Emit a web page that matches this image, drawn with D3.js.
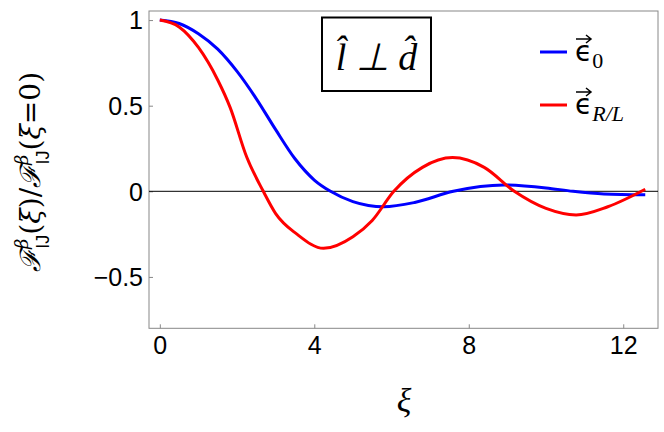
<!DOCTYPE html><html><head><meta charset="utf-8">
<script src="https://cdn.jsdelivr.net/npm/d3@7"></script>
<style>body{margin:0;background:#fff}</style></head><body><svg id="c" width="664" height="432"></svg>
<script>
const blueX=[0,0.5,1,1.5,2,2.5,3,3.5,4,4.42,5,5.8,6.6,7.6,8.9,10,10.7,11.5,12.57];
const blueY=[1,0.98,0.92,0.83,0.7,0.54,0.36,0.19,0.066,0,-0.06,-0.09,-0.065,0,0.037,0.02,0,-0.015,-0.02];
const redX=[0,0.5,1,1.5,1.82,2.25,2.68,3,3.55,4.24,5,5.5,6.06,6.8,7.58,8.4,9.18,10,10.78,11.6,12.57];
const redY=[1,0.96,0.84,0.65,0.49,0.2,0,-0.13,-0.25,-0.333,-0.265,-0.17,0,0.14,0.197,0.14,0,-0.1,-0.138,-0.09,0.012];
const xTicks=[0,4,8,12], yTicks=[-0.5,0,0.5,1];
const svg=d3.select("#c");
const x=d3.scaleLinear().domain([-0.28,12.9]).range([149,658]);
const y=d3.scaleLinear().domain([-0.8,1.053]).range([328.3,11]);
svg.append("rect").attr("x",149).attr("y",11).attr("width",509).attr("height",317.3).attr("fill","none").attr("stroke","#888");
const xa=svg.append("g").attr("transform","translate(0,328.3)").call(d3.axisBottom(x).tickValues(xTicks).tickSize(-4).tickPadding(8).tickFormat(d3.format("d")));
const ya=svg.append("g").attr("transform","translate(149,0)").call(d3.axisLeft(y).tickValues(yTicks).tickSize(-4).tickPadding(6).tickFormat(d=>d<0?"\u2212"+Math.abs(d):d));
[xa,ya].forEach(a=>{a.select(".domain").remove();a.selectAll("line").attr("stroke","#888");a.selectAll("text").attr("font-family","Liberation Sans, Arial").attr("font-size",25).attr("fill","#000");});
ya.selectAll("text").attr("dy","0.35em");
svg.append("line").attr("x1",x(-0.28)).attr("x2",x(12.9)).attr("y1",y(0)).attr("y2",y(0)).attr("stroke","#000").attr("stroke-width",1);
const line=d3.line().curve(d3.curveMonotoneX);
svg.append("path").attr("d",line(blueX.map((v,i)=>[x(v),y(blueY[i])]))).attr("fill","none").attr("stroke","#0000ff").attr("stroke-width",3);
svg.append("path").attr("d",line(redX.map((v,i)=>[x(v),y(redY[i])]))).attr("fill","none").attr("stroke","#ff0000").attr("stroke-width",3);
svg.append("rect").attr("x",322).attr("y",17.5).attr("width",109).attr("height",73.5).attr("fill","#fff").attr("stroke","#000").attr("stroke-width",2);
svg.append("text").attr("x",376.5).attr("y",70).attr("text-anchor","middle").attr("font-family","Liberation Serif, serif").attr("font-size",38).attr("font-style","italic").text("l\u0302 \u22A5 d\u0302");
[["#0000ff",52,"0"],["#ff0000",105,"R/L"]].forEach(([c,yy,s])=>{
 svg.append("line").attr("x1",540).attr("x2",567).attr("y1",yy).attr("y2",yy).attr("stroke",c).attr("stroke-width",3);
 const t=svg.append("text").attr("x",575).attr("y",yy+9).attr("font-family","DejaVu Sans").attr("font-size",28).text("\u03F5");
 t.append("tspan").attr("dy",7).attr("font-size",22).attr("font-family","Liberation Serif, serif").attr("font-style",s==="0"?"normal":"italic").text(s);
 svg.append("path").attr("d",`M576,${yy-13}L590,${yy-13}M586,${yy-17}L591,${yy-13}L586,${yy-9}`).attr("fill","none").attr("stroke","#000").attr("stroke-width",1.5);
});
svg.append("text").attr("x",404).attr("y",412).attr("text-anchor","middle").attr("font-family","Liberation Serif, serif").attr("font-style","italic").attr("font-size",34).text("\u03BE");
const yl=svg.append("text").attr("transform","translate(40,172) rotate(-90)").attr("text-anchor","middle").attr("font-family","DejaVu Serif, serif").attr("font-size",28);
const part=(t,o={})=>{const s=yl.append("tspan").text(t);Object.entries(o).forEach(([k,v])=>s.attr(k,v));return s;};
part("\u2131",{"font-style":"italic"});part("\u03B2",{"font-size":18,"dy":-12,"font-style":"italic"});part("IJ",{"font-size":18,"dy":21,"dx":-10,"font-family":"Liberation Sans"});
part("(",{"dy":-9});part("\u03BE",{"font-style":"italic"});part(")/");part("\u2131",{"font-style":"italic"});
part("\u03B2",{"font-size":18,"dy":-12,"font-style":"italic"});part("IJ",{"font-size":18,"dy":21,"dx":-10,"font-family":"Liberation Sans"});
part("(",{"dy":-9});part("\u03BE",{"font-style":"italic"});part("=0)");
</script></body></html>
